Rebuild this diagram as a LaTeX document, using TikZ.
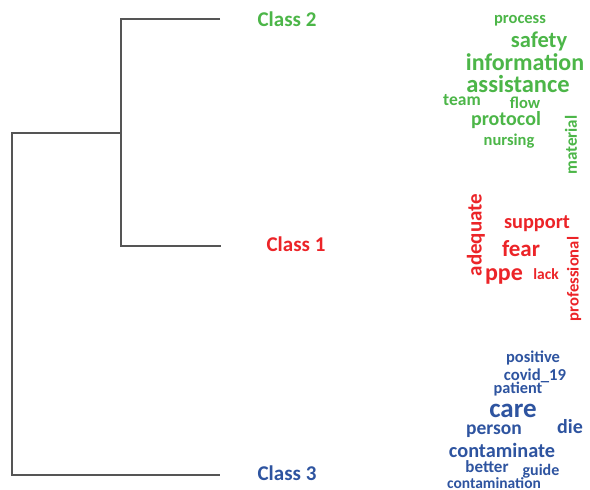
\documentclass[tikz,border=0pt]{standalone}
\usepackage{fontspec}
\setmainfont{Carlito}
\definecolor{cgreen}{RGB}{76,182,72}
\definecolor{cred}{RGB}{236,36,40}
\definecolor{cblue}{RGB}{46,84,160}
\definecolor{dline}{RGB}{85,85,85}
\newcommand{\fsz}[1]{\fontsize{#1}{#1}\selectfont\bfseries}
\begin{document}
\begin{tikzpicture}[x=1pt,y=-1pt,
  dend/.style={draw=dline,line width=1.6pt},
  wrd/.style={inner sep=0pt,anchor=center},
  gw/.style={wrd,text=cgreen},
  rw/.style={wrd,text=cred},
  bw/.style={wrd,text=cblue},
  vert/.style={rotate=90}]
\useasboundingbox[fill=white] (0,0) rectangle (590,490);
% dendrogram
\coordinate (l2) at (220,19);
\coordinate (l1) at (221,246);
\coordinate (l3) at (220,475);
\coordinate (t2) at (121,19);
\coordinate (t1) at (121,246);
\coordinate (j) at (121,133);
\coordinate (r) at (12,133);
\coordinate (rb) at (12,475);
\draw[dend] (l2) -- (t2) -- (t1) -- (l1);
\draw[dend] (j) -- (r) -- (rb) -- (l3);
% class labels
\node[gw,font=\fsz{21}] (c2) at (287,19) {Class 2};
\node[rw,font=\fsz{21}] (c1) at (296,244) {Class 1};
\node[bw,font=\fsz{21}] (c3) at (287,473) {Class 3};
% green cloud
\node[gw,font=\fsz{16.5}] (gprocess) at (520,21) {process};
\node[gw,font=\fsz{22.5}] (gsafety) at (539,41) {safety};
\node[gw,font=\fsz{24}] (ginfo) at (525,62) {information};
\node[gw,font=\fsz{24.5}] (gassist) at (518,84) {assistance};
\node[gw,font=\fsz{17.5}] (gteam) at (462,100) {team};
\node[gw,font=\fsz{16.5}] (gflow) at (525,103) {flow};
\node[gw,font=\fsz{20}] (gprot) at (506,120) {protocol};
\node[gw,font=\fsz{16.5}] (gnurs) at (509,141) {nursing};
\node[gw,vert,font=\fsz{17}] (gmat) at (571,145) {material};
% red cloud
\node[rw,vert,font=\fsz{21}] (radeq) at (476,235) {adequate};
\node[rw,font=\fsz{20.3}] (rsupp) at (537,224) {support};
\node[rw,font=\fsz{23}] (rfear) at (521,249) {fear};
\node[rw,font=\fsz{24}] (rppe) at (504,276) {ppe};
\node[rw,font=\fsz{15.5}] (rlack) at (546,274) {lack};
\node[rw,vert,font=\fsz{16.6}] (rprof) at (574,279) {professional};
% blue cloud
\node[bw,font=\fsz{16.5}] (bpos) at (533,358) {positive};
\node[bw,font=\fsz{16.7}] (bcovid) at (535,376) {covid\_19};
\node[bw,font=\fsz{16.3}] (bpat) at (518,389) {patient};
\node[bw,font=\fsz{27}] (bcare) at (513,411) {care};
\node[bw,font=\fsz{19.5}] (bpers) at (494,431) {person};
\node[bw,font=\fsz{20}] (bdie) at (570,427) {die};
\node[bw,font=\fsz{20.3}] (bcontam) at (502,450) {contaminate};
\node[bw,font=\fsz{17}] (bbetter) at (487,467) {better};
\node[bw,font=\fsz{16}] (bguide) at (541,471) {guide};
\node[bw,font=\fsz{15.5}] (bcontn) at (494,483) {contamination};
\end{tikzpicture}
\end{document}
